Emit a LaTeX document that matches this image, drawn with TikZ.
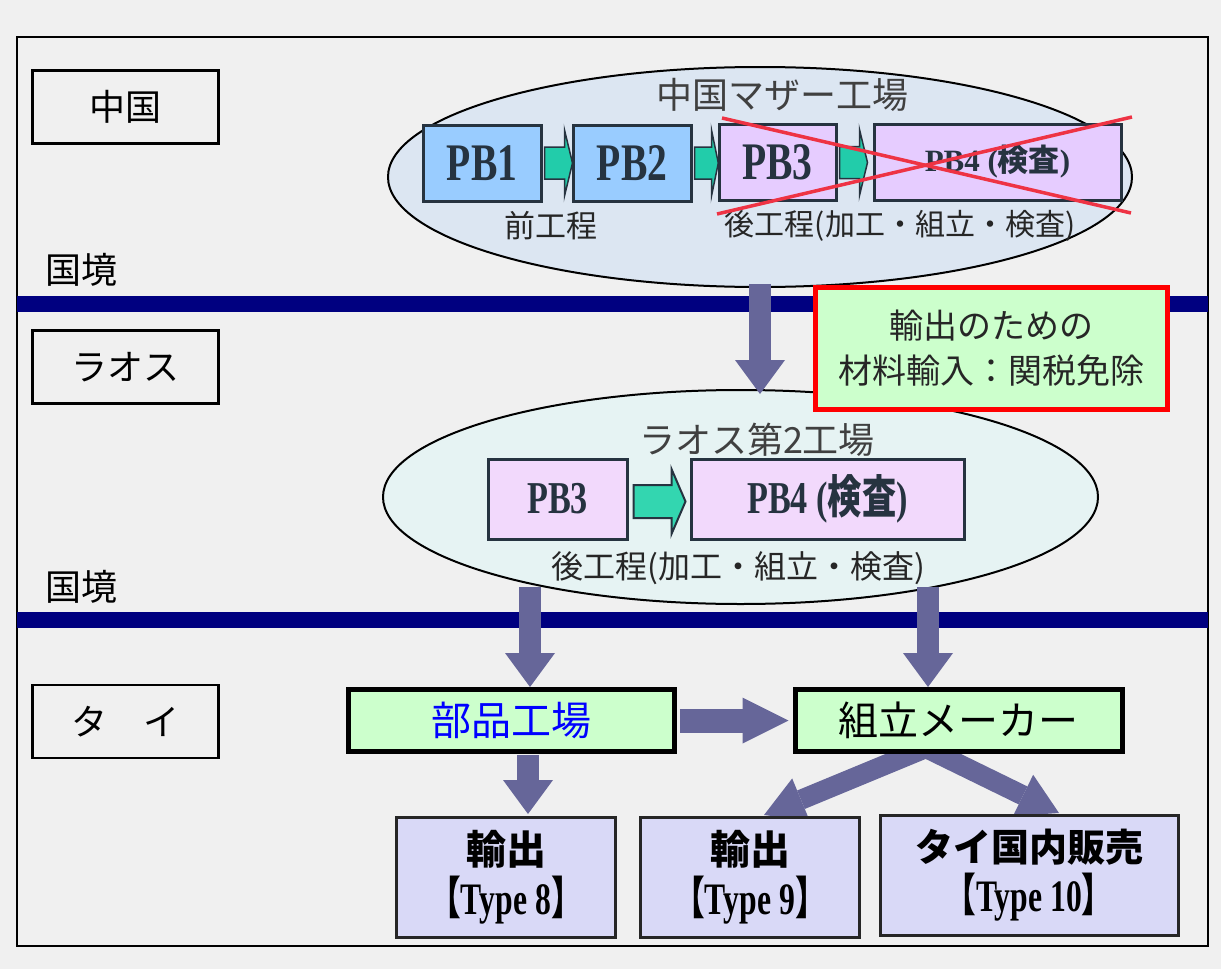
\documentclass[tikz,border=0pt]{standalone}
\usepackage{fontspec}
\setmainfont{Liberation Serif}
\newfontfamily\jp{Noto Sans CJK JP}
\usetikzlibrary{shapes.geometric,arrows.meta}
\definecolor{bg}{HTML}{F0F0F0}
\definecolor{band}{HTML}{000080}
\definecolor{chinaell}{HTML}{DCE6F2}
\definecolor{laosell}{HTML}{E6F3F3}
\definecolor{pbblue}{HTML}{99CCFF}
\definecolor{pbpurp}{HTML}{E6CCFF}
\definecolor{pbpink}{HTML}{F2D9FC}
\definecolor{pbline}{HTML}{263340}
\definecolor{gfill}{HTML}{22CCAA}
\definecolor{gfill2}{HTML}{33D6B0}
\definecolor{arrowc}{HTML}{666699}
\definecolor{lgreen}{HTML}{CCFFCC}
\definecolor{xred}{HTML}{EE3344}
\definecolor{boxlav}{HTML}{D9D9F7}
\definecolor{titlegray}{HTML}{404040}
\newcommand{\tall}[1]{\scalebox{0.9}[1.2]{#1}}
\newcommand{\typeline}[1]{\scalebox{0.88}[1.25]{{\jp 【}#1{\jp 】}}}
\tikzset{
  cbox/.style={draw=black, line width=2.5pt, minimum width=186pt, minimum height=73pt, inner sep=0pt, font=\jp\fontsize{36}{40}\selectfont},
  ell/.style={ellipse, draw=black, line width=2pt, inner sep=0pt},
  pbbox/.style={draw=pbline, line width=3pt, inner sep=0pt, text=pbline},
  greenbox/.style={draw=black, line width=5pt, fill=lgreen, inner sep=0pt, minimum width=326pt, minimum height=62pt, font=\jp\fontsize{40}{44}\selectfont},
  lavbox/.style={draw=black!85, line width=3pt, fill=boxlav, inner sep=0pt, minimum height=120pt, align=center, font=\bfseries\fontsize{36}{50}\selectfont},
  bigarrow/.style={draw=arrowc, line width=22pt, -{Triangle[length=34pt,width=50pt,line width=0pt]}},
  diagarrow/.style={draw=arrowc, line width=20pt, -{Triangle[length=40pt,width=46pt,line width=0pt]}},
  sidearrow/.style={draw=arrowc, line width=24pt, -{Triangle[length=46pt,width=46pt,line width=0pt]}},
  garS/.pic={\draw[fill=gfill, draw=pbline, line width=1.5pt] (0,-16) -- (20,-16) -- (20,-33) -- (28,0) -- (20,33) -- (20,16) -- (0,16) -- cycle;},
  garL/.pic={\draw[fill=gfill2, draw=pbline, line width=2pt] (0,-16.5) -- (38,-16.5) -- (38,-32.5) -- (52,0) -- (38,32.5) -- (38,16.5) -- (0,16.5) -- cycle;}
}
\begin{document}
\begin{tikzpicture}[x=1pt,y=-1pt]
\useasboundingbox (0,0) rectangle (1221,969);
\fill[bg] (0,0) rectangle (1221,969);
\draw[line width=2.5pt] (17,37) rectangle (1208,946);
% borders
\fill[band] (17,296) rectangle (1208,312);
\fill[band] (17,612) rectangle (1208,628);
% country labels
\node[cbox] (cn) at (125.5,107) {中国};
\node[cbox] (la) at (125.5,367) {ラオス};
\node[cbox] (th) at (125.5,721.5) {タ　イ};
\node[anchor=west, inner sep=0pt, font=\jp\fontsize{36}{40}\selectfont] (b1) at (45,270) {国境};
\node[anchor=west, inner sep=0pt, font=\jp\fontsize{36}{40}\selectfont] (b2) at (45,587) {国境};
% China ellipse
\node[ell, fill=chinaell, minimum width=744pt, minimum height=220pt] (china) at (760,177) {};
\node[text=titlegray, inner sep=0pt, font=\jp\fontsize{36}{40}\selectfont] (cht) at (782,95) {中国マザー工場};
\node[pbbox, fill=pbblue, minimum width=118pt, minimum height=76pt, font=\bfseries\fontsize{44}{48}\selectfont] (pb1) at (482,163) {\tall{PB1}};
\node[pbbox, fill=pbblue, minimum width=118pt, minimum height=76pt, font=\bfseries\fontsize{44}{48}\selectfont] (pb2) at (632,163) {\tall{PB2}};
\node[pbbox, fill=pbpurp, minimum width=117pt, minimum height=76pt, font=\bfseries\fontsize{44}{48}\selectfont] (pb3c) at (777.5,162.5) {\tall{PB3}};
\node[pbbox, fill=pbpurp, minimum width=247pt, minimum height=76pt, font=\bfseries\fontsize{31}{34}\selectfont] (pb4c) at (997.5,162) {PB4 ({\jp 検査})};
\pic at ([xshift=2pt]pb1.east) {garS};
\pic[xscale=0.85] at ([xshift=2pt]pb2.east) {garS};
\pic at ([xshift=2pt]pb3c.east) {garS};
\node[text=black!85, inner sep=0pt, font=\jp\fontsize{31}{34}\selectfont] (zen) at (551,226) {前工程};
\node[text=black!85, inner sep=0pt, font=\jp\fontsize{30}{34}\selectfont] (kou1) at (900,226) {後工程(加工・組立・検査)};
\draw[xred, line width=3.5pt] (722,118) -- (1131,213);
\draw[xred, line width=3.5pt] (717,214) -- (1132,117);
% Laos ellipse
\node[ell, fill=laosell, minimum width=715pt, minimum height=214pt] (laos) at (740.5,497) {};
\node[text=titlegray, inner sep=0pt, font=\jp\fontsize{36}{40}\selectfont] (lat) at (757,440) {ラオス第2工場};
\node[pbbox, fill=pbpink, minimum width=139pt, minimum height=80pt, font=\bfseries\fontsize{38}{42}\selectfont] (pb3l) at (557.5,499) {\tall{PB3}};
\node[pbbox, fill=pbpink, minimum width=273pt, minimum height=80pt, font=\bfseries\fontsize{38}{42}\selectfont] (pb4l) at (827.5,499) {\tall{PB4 ({\jp 検査})}};
\pic at ([xshift=5pt,yshift=-2.5pt]pb3l.east) {garL};
\node[text=black!85, inner sep=0pt, font=\jp\fontsize{32}{36}\selectfont] (kou2) at (738,568) {後工程(加工・組立・検査)};
% China -> Laos arrow
\draw[bigarrow] ([yshift=4pt]china.south) -- ([yshift=-5pt]laos.north -| china.south);
% red box
\node[draw=red, line width=5pt, fill=lgreen, minimum width=352pt, minimum height=122pt, inner sep=0pt, align=center, text=black!85, font=\jp\fontsize{34}{45}\selectfont] (tax) at (991.5,348.5) {輸出のための\\材料輸入：関税免除};
% Thai level
\coordinate (l1) at (530,587);
\coordinate (l2) at (928,587);
\coordinate (k0) at (926,748);
\coordinate (b8) at (528,755);
\coordinate (t9) at (764,815);
\coordinate (t10) at (1059,813);
\draw[diagarrow] (k0) -- (t9);
\draw[diagarrow] (k0) -- (t10);
\node[greenbox, text=blue] (buhin) at (511,720.5) {部品工場};
\node[greenbox, minimum width=327pt] (kumi) at (958.5,720.5) {組立メーカー};
\draw[bigarrow] (l1) -- (l1 |- buhin.north);
\draw[bigarrow] (l2) -- (l2 |- kumi.north);
\draw[sidearrow] ([xshift=3pt]buhin.east) -- ([xshift=-4pt]kumi.west);
\node[lavbox, minimum width=219pt] (ex8) at (506,877.5) {{\jp\fontsize{40}{44}\selectfont 輸出}\\\typeline{Type 8}};
\node[lavbox, minimum width=219pt] (ex9) at (750,877) {{\jp\fontsize{40}{44}\selectfont 輸出}\\\typeline{Type 9}};
\node[lavbox, minimum width=298pt] (dom) at (1029,875.5) {{\jp\fontsize{38}{44}\selectfont タイ国内販売}\\\typeline{Type 10}};
\draw[bigarrow] (b8) -- ([yshift=2pt]b8 |- ex8.north);
\end{tikzpicture}
\end{document}
